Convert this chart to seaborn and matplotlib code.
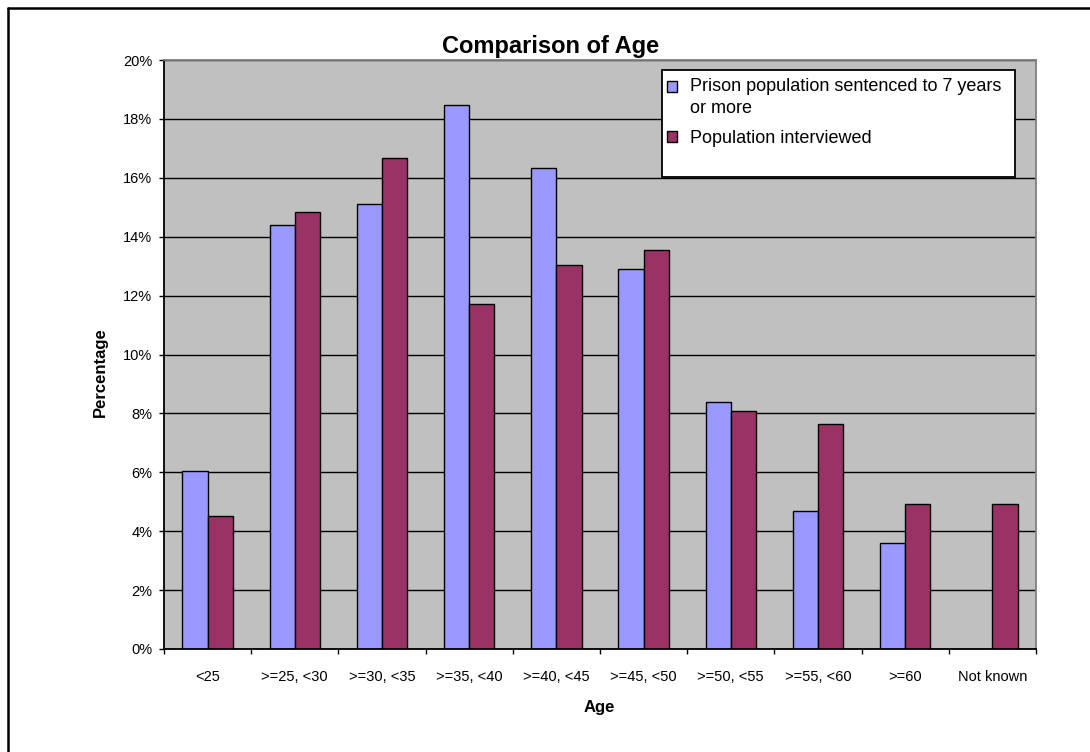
import numpy as np
import pandas as pd
import matplotlib
matplotlib.use("Agg")
import matplotlib.pyplot as plt
import matplotlib.patches as mpatches
from matplotlib.lines import Line2D
from matplotlib.legend_handler import HandlerPatch
from matplotlib.ticker import FixedLocator, NullFormatter, FixedFormatter
import seaborn as sns

# Age bands and percentage shares for each population
age_groups = ["<25", ">=25, <30", ">=30, <35", ">=35, <40", ">=40, <45",
              ">=45, <50", ">=50, <55", ">=55, <60", ">=60", "Not known"]
prison_pct = [6.05, 14.39, 15.12, 18.46, 16.34, 12.89, 8.38, 4.70, 3.61, np.nan]
interviewed_pct = [4.52, 14.84, 16.66, 11.71, 13.04, 13.54, 8.09, 7.64, 4.93, 4.93]
series_names = ["Prison population sentenced to 7 years\nor more",
                "Population interviewed"]
y_ticks = list(range(0, 21, 2))

colors = ["#9999FF", "#993366"]

df = pd.DataFrame({
    "age": age_groups * 2,
    "pct": prison_pct + interviewed_pct,
    "series": [series_names[0]] * len(age_groups) + [series_names[1]] * len(age_groups),
})

sns.set_theme(style="white")
plt.rcParams["font.family"] = ["Liberation Sans", "DejaVu Sans"]

W, H = 1090, 752
fig = plt.figure(figsize=(W / 100, H / 100), dpi=100)
fig.patch.set_facecolor("white")

left, right, top, bottom = 164, 1036, 60, 649
ax = fig.add_axes([left / W, 1 - bottom / H, (right - left) / W, (bottom - top) / H])
ax.set_facecolor("#C0C0C0")

sns.barplot(data=df, x="age", y="pct", hue="series", order=age_groups,
            hue_order=series_names, palette=colors, saturation=1, width=0.58,
            edgecolor="black", linewidth=1, legend=False, ax=ax)

# Axis limits, gridlines and ticks
ax.set_xlim(-0.5, len(age_groups) - 0.5)
ax.set_ylim(0, 20)
ax.set_axisbelow(True)
ax.yaxis.set_major_locator(FixedLocator(y_ticks))
ax.set_yticklabels([f"{t}%" for t in y_ticks])
ax.yaxis.grid(True, color="black", linewidth=1)
ax.xaxis.grid(False)

# Category ticks sit on the boundaries between groups; labels in the middle
ax.xaxis.set_major_locator(FixedLocator(np.arange(-0.5, len(age_groups), 1.0)))
ax.xaxis.set_major_formatter(NullFormatter())
ax.xaxis.set_minor_locator(FixedLocator(np.arange(len(age_groups))))
ax.xaxis.set_minor_formatter(FixedFormatter(age_groups))
ax.tick_params(axis="x", which="major", direction="out", length=3.5, width=1,
               color="black", bottom=True)
ax.tick_params(axis="x", which="minor", length=0, pad=15, labelsize=10.5,
               labelcolor="black", bottom=True)
ax.tick_params(axis="y", which="major", direction="out", length=3.5, width=1,
               color="black", pad=5, labelsize=10.5, labelcolor="black", left=True)

for side in ("left", "bottom"):
    ax.spines[side].set_color("black")
    ax.spines[side].set_linewidth(1.3)
for side in ("top", "right"):
    ax.spines[side].set_color("#808080")
    ax.spines[side].set_linewidth(1.3)
    ax.spines[side].set_visible(True)

# Titles
ax.set_title("Comparison of Age", fontsize=17, fontweight="bold", color="black",
             x=(551 - left) / (right - left), y=(bottom - 53) / (bottom - top),
             pad=0, va="baseline")
ax.set_xlabel("Age", fontsize=12, fontweight="bold", color="black")
ax.xaxis.set_label_coords((599 - left) / (right - left), -(700 - bottom) / (bottom - top))
ax.set_ylabel("Percentage", fontsize=12, fontweight="bold", color="black")
ax.yaxis.set_label_coords(-(left - 108) / (right - left), (bottom - 372) / (bottom - top))


# Legend: square swatches aligned with the first line of each label
def first_line_square(legend, orig_handle, xdescent, ydescent, width, height, fontsize):
    lines = orig_handle.get_label().count("\n")
    return mpatches.Rectangle((-xdescent, -ydescent + lines * 0.62 * fontsize), width, height)


handles = [mpatches.Patch(facecolor=c, edgecolor="black", linewidth=1, label=n)
           for c, n in zip(colors, series_names)]
leg = ax.legend(handles=handles, loc="upper left",
                bbox_to_anchor=(667 / W, 1 - 78 / H), bbox_transform=fig.transFigure,
                frameon=False, fontsize=13, handlelength=0.55, handleheight=0.55,
                handletextpad=0.7, labelspacing=0.75, borderpad=0, borderaxespad=0,
                handler_map={mpatches.Patch: HandlerPatch(patch_func=first_line_square)})
for t in leg.get_texts():
    t.set_color("black")
    t.set_linespacing(1.35)
leg.set_zorder(6)
ax.add_patch(mpatches.Rectangle((662 / W, 1 - 176.5 / H), (1015 - 662) / W, (176.5 - 70) / H,
                                transform=fig.transFigure, facecolor="white",
                                edgecolor="black", linewidth=1.3, zorder=5, clip_on=False))

# Outer chart border
fig.add_artist(Line2D([7.5 / W, 1.0], [1 - 7.5 / H, 1 - 7.5 / H], color="black", linewidth=1.8))
fig.add_artist(Line2D([7.5 / W, 7.5 / W], [0.0, 1 - 7.5 / H], color="black", linewidth=1.8))

fig.savefig("out.png", dpi=100, facecolor="white")
